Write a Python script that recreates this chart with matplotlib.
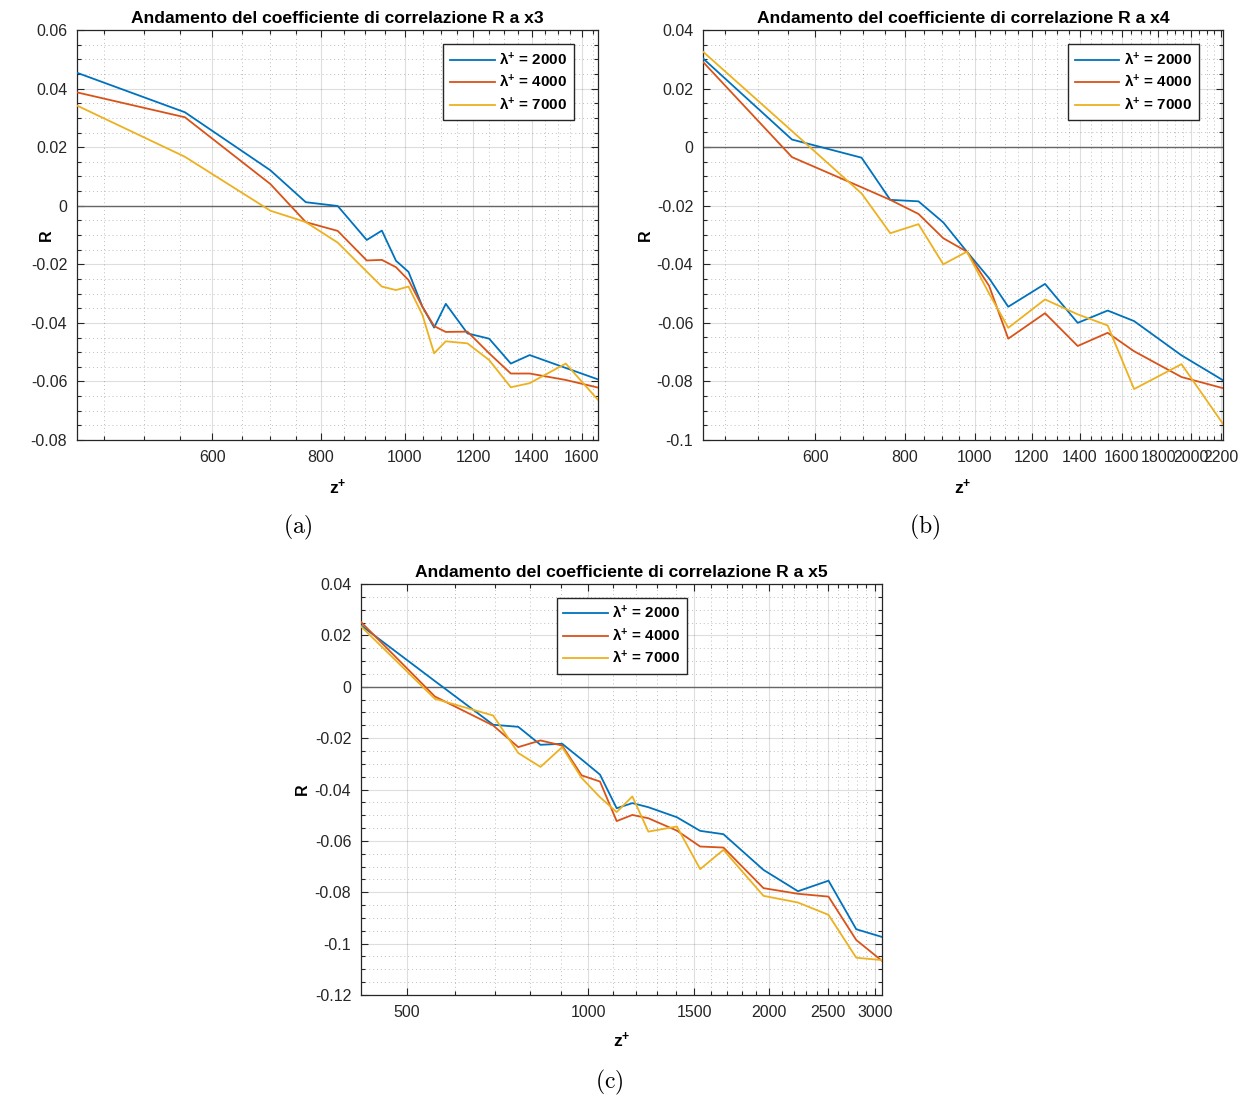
import matplotlib
matplotlib.use("Agg")
import matplotlib.pyplot as plt
import numpy as np
from matplotlib.ticker import FixedLocator, FuncFormatter, NullFormatter

plt.rcParams['font.family'] = ['Liberation Sans', 'DejaVu Sans']
plt.rcParams['mathtext.fontset'] = 'custom'
plt.rcParams['mathtext.rm'] = 'Liberation Sans'
plt.rcParams['mathtext.bf'] = 'Liberation Sans:bold'
plt.rcParams['mathtext.it'] = 'Liberation Sans:italic'

# Dati: z+ e coefficiente R per tre lambda+
lambdas = [2000, 4000, 7000]

# x3
z_x3 = [419, 558, 700, 769, 837, 904, 941, 977, 1010, 1048, 1081, 1115, 1181, 1251, 1325, 1393, 1533, 1670]
R_x3_2000 = [0.0454, 0.0319, 0.0121, 0.0012, -0.0001, -0.0117, -0.0085, -0.0188, -0.0226, -0.0345,
             -0.0416, -0.0335, -0.0436, -0.0454, -0.0539, -0.0510, -0.0554, -0.0593]
R_x3_4000 = [0.0387, 0.0302, 0.0074, -0.0056, -0.0086, -0.0187, -0.0185, -0.0210, -0.0254, -0.0345,
             -0.0411, -0.0431, -0.0430, -0.0504, -0.0573, -0.0573, -0.0595, -0.0621]
R_x3_7000 = [0.0342, 0.0167, -0.0017, -0.0056, -0.0126, -0.0225, -0.0276, -0.0288, -0.0276, -0.0373,
             -0.0504, -0.0463, -0.0470, -0.0527, -0.0620, -0.0606, -0.0539, -0.0663]

# x4
z_x4 = [419, 557, 696, 763, 835, 904, 975, 1047, 1113, 1252, 1390, 1530, 1665, 1938, 2213]
R_x4_2000 = [0.0303, 0.0026, -0.0036, -0.0180, -0.0185, -0.0257, -0.0357, -0.0448, -0.0545, -0.0467,
             -0.0600, -0.0558, -0.0594, -0.0711, -0.0796]
R_x4_4000 = [0.0291, -0.0034, -0.0137, -0.0180, -0.0228, -0.0311, -0.0357, -0.0474, -0.0654, -0.0567,
             -0.0679, -0.0634, -0.0697, -0.0785, -0.0823]
R_x4_7000 = [0.0326, 0.0055, -0.0158, -0.0294, -0.0263, -0.0400, -0.0357, -0.0500, -0.0617, -0.0520,
             -0.0571, -0.0609, -0.0826, -0.0741, -0.0945]

# x5
z_x5 = [419, 556, 695, 765, 833, 905, 975, 1046, 1115, 1184, 1259, 1404, 1535, 1678, 1956, 2232, 2509, 2790, 3079]
R_x5_2000 = [0.0239, 0.0022, -0.0148, -0.0156, -0.0226, -0.0222, -0.0283, -0.0342, -0.0473, -0.0453,
             -0.0469, -0.0508, -0.0561, -0.0574, -0.0713, -0.0796, -0.0755, -0.0944, -0.0974]
R_x5_4000 = [0.0252, -0.0038, -0.0151, -0.0235, -0.0209, -0.0229, -0.0345, -0.0369, -0.0523, -0.0499,
             -0.0512, -0.0560, -0.0622, -0.0626, -0.0784, -0.0806, -0.0817, -0.0986, -0.1067]
R_x5_7000 = [0.0235, -0.0047, -0.0112, -0.0258, -0.0312, -0.0235, -0.0355, -0.0430, -0.0488, -0.0427,
             -0.0564, -0.0544, -0.0710, -0.0635, -0.0814, -0.0840, -0.0888, -0.1055, -0.1064]

colori = ['#0072BD', '#D95319', '#EDB120']
grigio = '#262626'
W, H = 1249, 1100


def fmt_y(v, pos):
    v = round(v, 4)
    if v == 0:
        return '0'
    return f'{v:g}'


def pannello(rect_px, z, serie, titolo, ylim, xticks, passo_minor, loc, anchor, ylab_x, xlab_y):
    l, r, t, b = rect_px
    ax = fig.add_axes([l / W, 1 - b / H, (r - l) / W, (b - t) / H])
    ax.axhline(0, color='#666666', lw=1.0, zorder=1.5)
    for R, c, lam in zip(serie, colori, lambdas):
        ax.plot(z, R, color=c, lw=1.3, label=r'$\mathbf{\lambda^{+}}$ = %d' % lam, zorder=3)
    ax.set_xscale('log')
    ax.set_xlim(z[0], z[-1])
    ax.set_ylim(*ylim)
    ax.xaxis.set_major_locator(FixedLocator(xticks))
    ax.xaxis.set_major_formatter(FuncFormatter(lambda v, p: f'{v:.0f}'))
    minori = [m for m in np.arange(passo_minor, z[-1], passo_minor) if m > z[0] and m not in xticks]
    ax.xaxis.set_minor_locator(FixedLocator(minori))
    ax.xaxis.set_minor_formatter(NullFormatter())
    ax.set_yticks(np.arange(ylim[0], ylim[1] + 1e-9, 0.02))
    ax.set_yticks(np.arange(ylim[0], ylim[1] + 1e-9, 0.005), minor=True)
    ax.yaxis.set_major_formatter(FuncFormatter(fmt_y))
    ax.grid(True, which='major', color=grigio, alpha=0.15, lw=0.8)
    ax.grid(True, which='minor', color=grigio, alpha=0.3, lw=0.7, ls=(0, (1, 3)))
    ax.set_axisbelow(True)
    ax.tick_params(which='both', direction='in', top=True, right=True, color=grigio,
                   labelcolor=grigio, labelsize=11.5, width=0.8)
    ax.tick_params(which='major', length=5, pad=7)
    ax.tick_params(which='minor', length=3)
    for s in ax.spines.values():
        s.set_color(grigio)
        s.set_linewidth(0.9)
    ax.set_title(titolo, fontsize=12.6, fontweight='bold', pad=5)
    ax.set_ylabel('R', fontsize=11.5, fontweight='bold')
    ax.yaxis.set_label_coords(ylab_x, 0.5)
    ax.set_xlabel(r'$\mathbf{z^{+}}$', fontsize=12.5)
    ax.xaxis.set_label_coords(0.5, xlab_y)
    ax.legend(loc=loc, bbox_to_anchor=anchor, borderaxespad=0, frameon=True, fancybox=False,
              edgecolor=grigio, framealpha=1, prop={'weight': 'bold', 'size': 11},
              handlelength=2.9, labelspacing=0.35, borderpad=0.45, handletextpad=0.3)
    return ax


fig = plt.figure(figsize=(W / 100, H / 100), dpi=100)

pannello((77, 598, 30, 440), z_x3, [R_x3_2000, R_x3_4000, R_x3_7000],
         'Andamento del coefficiente di correlazione R a x3', (-0.08, 0.06),
         [600, 800, 1000, 1200, 1400, 1600], 50, 'upper right', (0.954, 0.966), -0.045, -0.091)
pannello((703, 1223, 30, 440), z_x4, [R_x4_2000, R_x4_4000, R_x4_7000],
         'Andamento del coefficiente di correlazione R a x4', (-0.1, 0.04),
         [600, 800, 1000, 1200, 1400, 1600, 1800, 2000, 2200], 50, 'upper right', (0.953, 0.966), -0.096, -0.091)
pannello((361, 882, 584, 995), z_x5, [R_x5_2000, R_x5_4000, R_x5_7000],
         'Andamento del coefficiente di correlazione R a x5', (-0.12, 0.04),
         [500, 1000, 1500, 2000, 2500, 3000], 100, 'upper center', (0.5006, 0.967), -0.098, -0.088)

for testo, xp, yp in [('(a)', 298, 527), ('(b)', 925, 527), ('(c)', 609, 1082)]:
    fig.text(xp / W, 1 - yp / H, r'$\mathrm{%s}$' % testo, math_fontfamily='cm',
             fontsize=17, ha='center', va='center')

fig.savefig('out.png', dpi=100)
